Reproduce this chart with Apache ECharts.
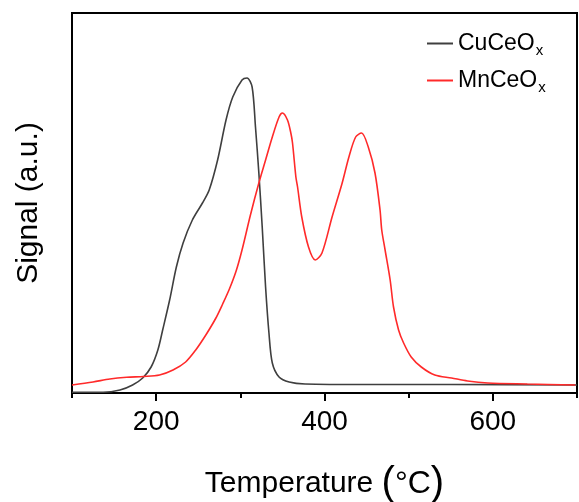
<!DOCTYPE html>
<html>
<head>
<meta charset="utf-8">
<script src="https://cdn.jsdelivr.net/npm/echarts@6/dist/echarts.min.js"></script>
<style>
html,body{margin:0;padding:0;background:#fff;}
#chart{width:579px;height:502px;}
</style>
</head>
<body>
<div id="chart"></div>
<script>
// Temperature (°C) and signal (a.u.)
const cuTemp = [100, 137, 157, 172, 184, 194, 202, 208, 216, 224, 232, 243, 255, 263, 273, 283, 291, 302, 308, 314, 318, 322, 326, 330, 334, 338, 346, 358, 377, 450, 550, 700];
const cuSignal = [0.7, 0.7, 3, 8, 15, 26, 43, 64, 93, 126, 150, 173, 190, 203, 233, 273, 296, 313, 315, 306, 266, 220, 166, 106, 60, 30, 16, 11, 9, 8.5, 8.5, 8];

const mnTemp = [100, 125, 145, 165, 185, 204, 220, 235, 247, 259, 271, 279, 287, 295, 302, 312, 322, 330, 338, 346, 350, 356, 360, 362, 366, 368, 373, 381, 389, 397, 409, 421, 429, 437, 444, 452, 460, 466, 468, 472, 478, 482, 488, 494, 503, 515, 531, 551, 570, 594, 641, 698];
const mnSignal = [8, 11, 14, 15.7, 16.5, 18, 23, 31, 43, 58, 75, 89, 104, 122, 143, 178, 210, 233, 256, 276, 280, 273, 260, 250, 216, 206, 176, 146, 133, 140, 176, 210, 236, 256, 260, 246, 220, 183, 163, 143, 113, 86, 63, 50, 36, 26, 18, 15, 12, 10, 9, 8];

const xLabelValues = [200, 400, 600];
const xMinorTickValues = [100, 300, 500, 700];
const seriesNames = ['CuCeOx', 'MnCeOx'];

const pair = (xs, ys) => xs.map((x, i) => [x, ys[i]]);

const chart = echarts.init(document.getElementById('chart'), null, {renderer: 'canvas'});
const FONT = '"Liberation Sans", Arial, sans-serif';

chart.setOption({
  backgroundColor: '#ffffff',
  animation: false,
  grid: {left: 72, right: 2, top: 13, bottom: 109, show: true, borderColor: '#000', borderWidth: 2, outerBoundsMode: 'none', containLabel: false},
  legend: {
    orient: 'vertical',
    left: 422,
    top: 27,
    itemWidth: 26,
    itemHeight: 2,
    itemGap: 11,
    icon: 'rect',
    data: seriesNames,
    formatter: function (n) { return '{m|' + n.slice(0, -1) + '}{s|' + n.slice(-1) + '}'; },
    textStyle: {
      fontFamily: FONT,
      color: '#000',
      rich: {
        m: {fontSize: 23, fontFamily: FONT, color: '#000'},
        s: {fontSize: 15, fontFamily: FONT, color: '#000', padding: [14, 0, 0, 1]}
      }
    }
  },
  xAxis: [{
    type: 'value',
    min: 100, max: 700,
    position: 'bottom',
    axisLine: {show: true, onZero: false, lineStyle: {color: '#000', width: 2}},
    axisTick: {show: true, customValues: xLabelValues, length: 8, inside: false, lineStyle: {color: '#000', width: 2}},
    axisLabel: {show: true, customValues: xLabelValues, fontSize: 28, fontFamily: FONT, color: '#000', margin: 15},
    splitLine: {show: false},
    name: '{t|Temperature }{p|(}{d|°C}{p|)}',
    nameLocation: 'middle',
    nameGap: 71,
    nameTextStyle: {
      rich: {
        t: {fontSize: 30, fontFamily: FONT, color: '#000'},
        p: {fontSize: 40, fontFamily: FONT, color: '#000'},
        d: {fontSize: 32, fontFamily: FONT, color: '#000'}
      }
    }
  }, {
    type: 'value',
    min: 100, max: 700,
    position: 'bottom',
    axisLine: {show: false, onZero: false},
    axisTick: {show: true, customValues: xMinorTickValues, length: 5, inside: false, lineStyle: {color: '#000', width: 2}},
    axisLabel: {show: false},
    splitLine: {show: false}
  }],
  yAxis: {
    type: 'value',
    min: 0, max: 380,
    axisLine: {show: true, onZero: false, lineStyle: {color: '#000', width: 2}},
    axisTick: {show: false},
    axisLabel: {show: false},
    splitLine: {show: false},
    name: 'Signal (a.u.)',
    nameLocation: 'middle',
    nameGap: 28,
    nameTextStyle: {fontSize: 30, fontFamily: FONT, color: '#000'}
  },
  series: [{
    name: seriesNames[0],
    type: 'line',
    xAxisIndex: 0,
    data: pair(cuTemp, cuSignal),
    showSymbol: false,
    smooth: 0.3,
    color: '#3f3f3f',
    lineStyle: {color: '#3f3f3f', width: 1.6}
  }, {
    name: seriesNames[1],
    type: 'line',
    xAxisIndex: 0,
    data: pair(mnTemp, mnSignal),
    showSymbol: false,
    smooth: 0.3,
    color: '#ff2a2a',
    lineStyle: {color: '#ff2a2a', width: 1.6}
  }]
});
</script>
</body>
</html>
